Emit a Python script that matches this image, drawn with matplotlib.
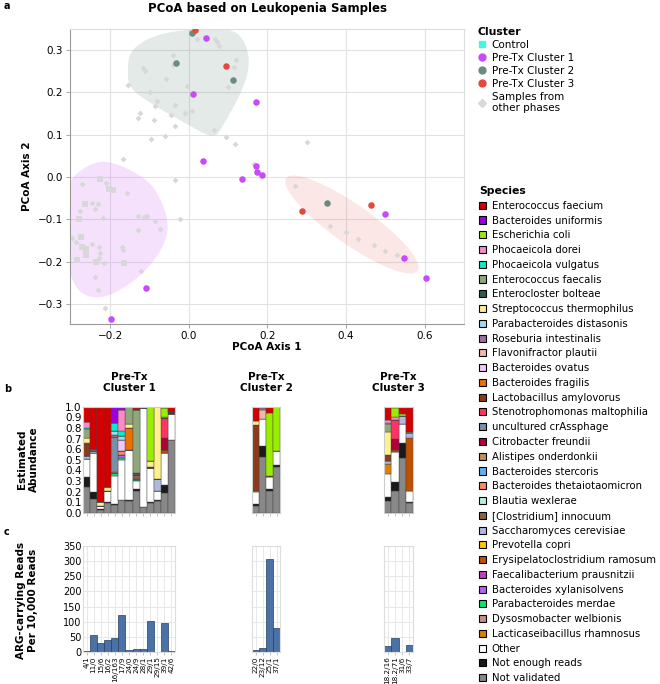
import matplotlib
matplotlib.use("Agg")
import matplotlib.pyplot as plt
import numpy as np
from matplotlib.lines import Line2D
from matplotlib.patches import Patch, Ellipse

plt.rcParams["font.family"] = ["DejaVu Sans"]

# ---------------- data ----------------
species = [
    "Enterococcus faecium", "Bacteroides uniformis", "Escherichia coli", "Phocaeicola dorei",
    "Phocaeicola vulgatus", "Enterococcus faecalis", "Enterocloster bolteae",
    "Streptococcus thermophilus", "Parabacteroides distasonis", "Roseburia intestinalis",
    "Flavonifractor plautii", "Bacteroides ovatus", "Bacteroides fragilis",
    "Lactobacillus amylovorus", "Stenotrophomonas maltophilia", "uncultured crAssphage",
    "Citrobacter freundii", "Alistipes onderdonkii", "Bacteroides stercoris",
    "Bacteroides thetaiotaomicron", "Blautia wexlerae", "[Clostridium] innocuum",
    "Saccharomyces cerevisiae", "Prevotella copri", "Erysipelatoclostridium ramosum",
    "Faecalibacterium prausnitzii", "Bacteroides xylanisolvens", "Parabacteroides merdae",
    "Dysosmobacter welbionis", "Lacticaseibacillus rhamnosus", "Other", "Not enough reads",
    "Not validated",
]
species_colors = [
    "#d40000", "#9900e6", "#99ee00", "#ff88c8", "#00f0cc", "#8fa87a", "#2d5a4f",
    "#fff08c", "#a0d8f0", "#a06fa0", "#f0b8a8", "#f0c8f8", "#ee7000", "#8b3a1a",
    "#ff3366", "#7890a8", "#b0003a", "#c09050", "#60b0f0", "#ff8866", "#b8f0d8",
    "#8b6048", "#b0b8e0", "#ffc800", "#c05000", "#c040c0", "#b060ff", "#00e870",
    "#c89088", "#dd8000", "#ffffff", "#1a1a1a", "#888888",
]

c1_samples = ["4/1", "11/0", "15/6", "16/2", "16/163", "17/9", "24/0", "24/9", "28/1",
              "29/1", "29/15", "39/1", "42/6"]
c1_arg = [3, 57, 29, 40, 47, 122, 8, 9, 11, 103, 0.5, 97, 4]
c1_abund = {
    "Enterococcus faecium": [0.14, 0.40, 0.90, 0.76, 0, 0, 0, 0.02, 0, 0, 0, 0.015, 0.05],
    "Bacteroides uniformis": [0, 0, 0, 0, 0.155, 0.025, 0, 0.01, 0, 0, 0, 0, 0],
    "Escherichia coli": [0, 0, 0, 0, 0, 0, 0, 0, 0, 0.51, 0, 0.085, 0],
    "Phocaeicola dorei": [0.06, 0, 0, 0, 0, 0.20, 0, 0, 0, 0, 0, 0.01, 0],
    "Phocaeicola vulgatus": [0.01, 0, 0, 0, 0.075, 0.05, 0, 0, 0, 0, 0, 0, 0],
    "Enterococcus faecalis": [0.08, 0, 0, 0, 0, 0, 0.16, 0.595, 0, 0, 0, 0, 0],
    "Enterocloster bolteae": [0, 0, 0, 0, 0, 0, 0, 0.01, 0.015, 0, 0, 0, 0],
    "Streptococcus thermophilus": [0.05, 0, 0.03, 0.03, 0, 0, 0.04, 0, 0, 0.055, 0.68, 0, 0],
    "Parabacteroides distasonis": [0, 0.01, 0, 0, 0.04, 0.03, 0, 0, 0, 0, 0, 0, 0],
    "Roseburia intestinalis": [0, 0.01, 0, 0, 0.005, 0, 0, 0.005, 0, 0, 0, 0, 0.01],
    "Flavonifractor plautii": [0, 0, 0, 0, 0.01, 0, 0, 0, 0, 0, 0, 0, 0],
    "Bacteroides ovatus": [0, 0, 0, 0, 0, 0.11, 0, 0, 0, 0, 0, 0, 0],
    "Bacteroides fragilis": [0.01, 0, 0, 0, 0, 0, 0.20, 0, 0, 0, 0, 0, 0],
    "Lactobacillus amylovorus": [0.11, 0, 0, 0, 0, 0, 0, 0, 0, 0.015, 0, 0, 0],
    "Stenotrophomonas maltophilia": [0, 0, 0, 0, 0, 0, 0, 0, 0, 0, 0, 0.18, 0],
    "uncultured crAssphage": [0, 0, 0, 0, 0.325, 0, 0, 0, 0, 0, 0, 0, 0],
    "Citrobacter freundii": [0, 0, 0, 0, 0, 0, 0, 0, 0, 0, 0, 0.115, 0.01],
    "Bacteroides thetaiotaomicron": [0, 0, 0, 0, 0.015, 0.03, 0, 0, 0, 0, 0, 0, 0],
    "[Clostridium] innocuum": [0, 0, 0, 0, 0, 0, 0, 0.04, 0, 0, 0, 0, 0],
    "Saccharomyces cerevisiae": [0.03, 0.02, 0, 0, 0, 0, 0, 0, 0, 0, 0.11, 0, 0],
    "Erysipelatoclostridium ramosum": [0, 0, 0, 0, 0, 0, 0, 0, 0, 0, 0, 0.03, 0],
    "Faecalibacterium prausnitzii": [0, 0, 0, 0, 0, 0, 0, 0.01, 0, 0, 0, 0, 0],
    "Bacteroides xylanisolvens": [0, 0, 0, 0, 0, 0.03, 0, 0, 0, 0, 0, 0, 0],
    "Parabacteroides merdae": [0, 0, 0, 0, 0.03, 0.02, 0, 0.01, 0, 0, 0, 0, 0],
    "Other": [0.17, 0.36, 0.035, 0.11, 0.265, 0.38, 0.475, 0.07, 0.93, 0.32, 0.09, 0.30, 0.24],
    "Not enough reads": [0.10, 0.07, 0.01, 0.005, 0.005, 0, 0.01, 0.02, 0, 0.005, 0.01, 0.075, 0],
    "Not validated": [0.24, 0.13, 0.025, 0.095, 0.075, 0.12, 0.11, 0.21, 0.055, 0.095, 0.11, 0.19, 0.69],
}

c2_samples = ["22/0", "23/12", "25/1", "37/1"]
c2_arg = [8, 14, 306, 79]
c2_abund = {
    "Enterococcus faecium": [0.135, 0, 0.06, 0],
    "Escherichia coli": [0, 0, 0.59, 0.42],
    "Streptococcus thermophilus": [0.035, 0.015, 0, 0],
    "Roseburia intestinalis": [0, 0.02, 0, 0],
    "Flavonifractor plautii": [0, 0.085, 0, 0],
    "Lactobacillus amylovorus": [0.625, 0, 0.01, 0],
    "uncultured crAssphage": [0.01, 0, 0, 0],
    "Other": [0.115, 0.25, 0.115, 0.13],
    "Not enough reads": [0.01, 0.10, 0.015, 0.02],
    "Not validated": [0.07, 0.53, 0.21, 0.43],
}

c3_samples = ["18.2/16", "18.2/71", "31/6", "33/7"]
c3_arg = [19, 46, 1, 22]
c3_abund = {
    "Enterococcus faecium": [0.125, 0.01, 0.065, 0.235],
    "Escherichia coli": [0, 0.085, 0.025, 0],
    "Phocaeicola dorei": [0.025, 0.025, 0, 0],
    "Phocaeicola vulgatus": [0.01, 0, 0, 0],
    "Enterococcus faecalis": [0.075, 0, 0, 0],
    "Streptococcus thermophilus": [0.215, 0, 0, 0.015],
    "Lactobacillus amylovorus": [0.06, 0, 0, 0],
    "Stenotrophomonas maltophilia": [0, 0.175, 0, 0],
    "Citrobacter freundii": [0, 0.11, 0, 0],
    "Saccharomyces cerevisiae": [0.03, 0, 0.075, 0.04],
    "Erysipelatoclostridium ramosum": [0, 0.015, 0, 0.50],
    "Lacticaseibacillus rhamnosus": [0.09, 0, 0, 0],
    "Other": [0.215, 0.28, 0.18, 0.105],
    "Not enough reads": [0.04, 0.085, 0.14, 0.015],
    "Not validated": [0.115, 0.21, 0.515, 0.09],
}

# PCoA coordinates
pc1_c1_x = [0.043, 0.011, 0.171, 0.037, 0.172, 0.174, 0.187, 0.136, -0.108, -0.198, 0.50, 0.547, 0.603]
pc1_c1_y = [0.329, 0.197, 0.177, 0.039, 0.027, 0.011, 0.006, -0.005, -0.261, -0.336, -0.087, -0.19, -0.239]
pc1_c2_x = [0.009, -0.032, 0.113, 0.352]
pc1_c2_y = [0.340, 0.270, 0.230, -0.060]
pc1_c3_x = [0.017, 0.095, 0.288, 0.463]
pc1_c3_y = [0.347, 0.263, -0.081, -0.066]

other_diamond_x = [0.020, 0.066, 0.071, 0.078, -0.039, -0.041, 0.119, 0.116, -0.117, -0.110,
                   -0.059, -0.154, -0.005, 0.099, -0.098, -0.081, -0.087, -0.035, -0.123, -0.129,
                   -0.010, 0.009, -0.046, -0.088, -0.035, 0.065, -0.060, 0.096, -0.097, 0.117,
                   0.301, -0.168, 0.166, -0.036, -0.272, -0.210, -0.157, -0.246, -0.232, -0.276,
                   -0.239, -0.219, -0.129, -0.114, -0.105, -0.085, -0.023, -0.129, -0.074, -0.298,
                   -0.286, -0.245, -0.227, -0.170, -0.166, -0.225, -0.227, -0.216, -0.121, -0.238,
                   -0.230, -0.213, 0.269, 0.36, 0.40, 0.43, 0.47, 0.50, 0.53]
other_diamond_y = [0.327, 0.326, 0.320, 0.311, 0.288, 0.264, 0.277, 0.260, 0.257, 0.251,
                   0.232, 0.217, 0.216, 0.213, 0.201, 0.179, 0.168, 0.171, 0.152, 0.139,
                   0.152, 0.156, 0.146, 0.135, 0.121, 0.112, 0.098, 0.095, 0.090, 0.078,
                   0.084, 0.044, 0.032, -0.007, -0.017, -0.015, -0.037, -0.062, -0.064, -0.080,
                   -0.076, -0.096, -0.091, -0.094, -0.091, -0.103, -0.098, -0.125, -0.123, -0.144,
                   -0.153, -0.157, -0.166, -0.165, -0.173, -0.179, -0.192, -0.203, -0.222, -0.237,
                   -0.267, -0.310, -0.021, -0.115, -0.13, -0.145, -0.16, -0.175, -0.185]
other_square_x = [-0.225, -0.204, -0.193, -0.265, -0.278, -0.273, -0.272, -0.261, -0.261, -0.284,
                  -0.235, -0.164]
other_square_y = [-0.004, -0.029, -0.031, -0.064, -0.098, -0.141, -0.165, -0.169, -0.184, -0.196,
                  -0.200, -0.203]

# outlines of the shaded cluster regions
hull_c2_x = [-0.15, -0.085, 0.03, 0.125, 0.158, 0.142, 0.085, 0.064, -0.01, -0.09, -0.152, -0.156]
hull_c2_y = [0.300, 0.338, 0.352, 0.350, 0.285, 0.213, 0.118, 0.090, 0.128, 0.170, 0.210, 0.255]
hull_c1_x = [-0.31, -0.25, -0.195, -0.105, -0.07, -0.048, -0.072, -0.135, -0.225, -0.292, -0.312, -0.32]
hull_c1_y = [-0.010, 0.034, 0.038, -0.004, -0.052, -0.118, -0.180, -0.246, -0.292, -0.268, -0.175, -0.094]

# ---------------- styling ----------------
c_control = "#4ef0e0"
c_clu1 = "#c94af7"
c_clu2 = "#6a8c80"
c_clu3 = "#e4493e"
c_other = "#d8d8d8"
grid_c = "#e2e2e2"


def smooth(xs, ys, n_iter=4):
    pts = np.column_stack([xs, ys])
    for _ in range(n_iter):
        nxt = np.roll(pts, -1, axis=0)
        q = 0.75 * pts + 0.25 * nxt
        r = 0.25 * pts + 0.75 * nxt
        pts = np.empty((2 * len(q), 2))
        pts[0::2] = q
        pts[1::2] = r
    return pts[:, 0], pts[:, 1]


def style_spines(ax, dark="#999999", light="#dddddd"):
    for side in ["left", "bottom"]:
        ax.spines[side].set_color(dark)
        ax.spines[side].set_linewidth(0.8)
    for side in ["top", "right"]:
        ax.spines[side].set_color(light)
        ax.spines[side].set_linewidth(0.8)


W, H = 660, 684
fig = plt.figure(figsize=(W / 100, H / 100), dpi=100)


def px_axes(x0, y0, x1, y1):
    return fig.add_axes([x0 / W, 1 - y1 / H, (x1 - x0) / W, (y1 - y0) / H])


# ---------------- panel a ----------------
ax = px_axes(70, 29, 464, 324)
ax.set_xlim(-0.302, 0.70)
ax.set_ylim(-0.347, 0.35)
ax.grid(True, color=grid_c, lw=0.8)
ax.set_axisbelow(True)
style_spines(ax)

hx, hy = smooth(hull_c2_x, hull_c2_y)
ax.fill(hx, hy, color=c_clu2, alpha=0.18, lw=0, zorder=1)
hx, hy = smooth(hull_c1_x, hull_c1_y)
ax.fill(hx, hy, color=c_clu1, alpha=0.16, lw=0, zorder=1)
ax.add_patch(Ellipse((0.415, -0.112), 0.40, 0.095, angle=-33, color=c_clu3, alpha=0.13, lw=0, zorder=1))

ax.scatter(other_diamond_x, other_diamond_y, marker="D", s=9, color=c_other, lw=0, zorder=2)
ax.scatter(other_square_x, other_square_y, marker="s", s=22, color=c_other, lw=0, zorder=2)
ax.scatter(pc1_c1_x, pc1_c1_y, s=22, color=c_clu1, lw=0, zorder=3)
ax.scatter(pc1_c2_x, pc1_c2_y, s=22, color=c_clu2, lw=0, zorder=3)
ax.scatter(pc1_c3_x, pc1_c3_y, s=22, color=c_clu3, lw=0, zorder=3)

ax.set_xticks([-0.2, 0.0, 0.2, 0.4, 0.6])
ax.set_yticks([-0.3, -0.2, -0.1, 0.0, 0.1, 0.2, 0.3])
ax.tick_params(labelsize=7.5, length=3, width=0.6, color="#999999", pad=2)
ax.set_xlabel("PCoA Axis 1", fontsize=7.5, fontweight="bold", labelpad=1)
ax.set_ylabel("PCoA Axis 2", fontsize=7.5, fontweight="bold", labelpad=4)
ax.set_title("PCoA based on Leukopenia Samples", fontsize=8.5, fontweight="bold", pad=12)

cluster_handles = [
    Line2D([], [], marker="s", ls="", color=c_control, ms=5),
    Line2D([], [], marker="o", ls="", color=c_clu1, ms=5),
    Line2D([], [], marker="o", ls="", color=c_clu2, ms=5),
    Line2D([], [], marker="o", ls="", color=c_clu3, ms=5),
    Line2D([], [], marker="D", ls="", color=c_other, ms=4),
]
cluster_labels = ["Control", "Pre-Tx Cluster 1", "Pre-Tx Cluster 2", "Pre-Tx Cluster 3",
                  "Samples from\nother phases"]
fig.legend(cluster_handles, cluster_labels, title="Cluster", loc="upper left",
           bbox_to_anchor=(478 / W, 1 - 27 / H), frameon=False, fontsize=7.5,
           title_fontproperties={"weight": "bold", "size": 7.8}, alignment="left",
           handlelength=0.7, handletextpad=0.6, labelspacing=0.28, borderpad=0,
           borderaxespad=0)

species_handles = [Patch(facecolor=c, edgecolor="black", lw=0.8) for c in species_colors]
fig.legend(species_handles, species, title="Species", loc="upper left",
           bbox_to_anchor=(479 / W, 1 - 186 / H), frameon=False, fontsize=7.3,
           title_fontproperties={"weight": "bold", "size": 7.8}, alignment="left",
           handlelength=0.7, handleheight=0.7, handletextpad=0.55, labelspacing=0.47,
           borderpad=0, borderaxespad=0)

# ---------------- panels b and c ----------------
clusters = [
    ("Pre-Tx\nCluster 1", c1_samples, c1_abund, c1_arg, 83, 175),
    ("Pre-Tx\nCluster 2", c2_samples, c2_abund, c2_arg, 252, 280),
    ("Pre-Tx\nCluster 3", c3_samples, c3_abund, c3_arg, 384, 413),
]

for k, (title, samples, abund, arg, x0, x1) in enumerate(clusters):
    n = len(samples)
    xs = np.arange(n)

    axb = px_axes(x0, 406.7, x1, 513)
    bottom = np.zeros(n)
    for name, col in reversed(list(zip(species, species_colors))):
        if name not in abund:
            continue
        vals = np.array(abund[name], dtype=float)
        axb.bar(xs, vals, bottom=bottom, width=1.0, color=col, edgecolor="#444444", lw=0.3)
        bottom += vals
    axb.set_xlim(-0.5, n - 0.5)
    axb.set_ylim(0, 1.0)
    axb.set_xticks(xs)
    axb.set_xticklabels([])
    axb.tick_params(axis="x", length=2, width=0.5, color="#aaaaaa")
    for s in axb.spines.values():
        s.set_color("#cccccc")
        s.set_linewidth(0.8)
    axb.set_title(title, fontsize=7.5, fontweight="bold", pad=11, linespacing=1.15)
    if k == 0:
        axb.set_yticks(np.arange(0, 1.01, 0.1))
        axb.set_yticklabels([f"{v:.1f}" for v in np.arange(0, 1.01, 0.1)])
        axb.tick_params(axis="y", labelsize=7.5, length=0, pad=1)
    else:
        axb.set_yticks([])

    axc = px_axes(x0, 546, x1, 652)
    axc.bar(xs, arg, width=1.0, color="#4a72a6", edgecolor="#2a3f5c", lw=0.5, zorder=2)
    axc.set_xlim(-0.5, n - 0.5)
    axc.set_ylim(0, 350)
    axc.set_yticks(np.arange(0, 351, 50))
    axc.grid(True, color="#e8e8e8", lw=0.7)
    axc.set_axisbelow(True)
    for s in axc.spines.values():
        s.set_color("#dddddd")
        s.set_linewidth(0.8)
    axc.set_xticks(xs)
    axc.set_xticklabels(samples, rotation=90, fontsize=5.2)
    axc.tick_params(axis="x", length=2, width=0.5, color="#aaaaaa", pad=1)
    if k == 0:
        axc.tick_params(axis="y", labelsize=7, length=0, pad=1)
    else:
        axc.tick_params(axis="y", labelleft=False, length=0)

fig.text(28 / W, 1 - 459 / H, "Estimated\nAbundance", rotation=90, ha="center", va="center",
         fontsize=7.5, fontweight="bold")
fig.text(27 / W, 1 - 600 / H, "ARG-carrying Reads\nPer 10,000 Reads", rotation=90, ha="center",
         va="center", fontsize=7.5, fontweight="bold")

for lab, y in [("a", 6), ("b", 389), ("c", 532)]:
    fig.text(4 / W, 1 - y / H, lab, fontsize=7, fontweight="bold", ha="left", va="center")

fig.savefig("out.png", dpi=100)
